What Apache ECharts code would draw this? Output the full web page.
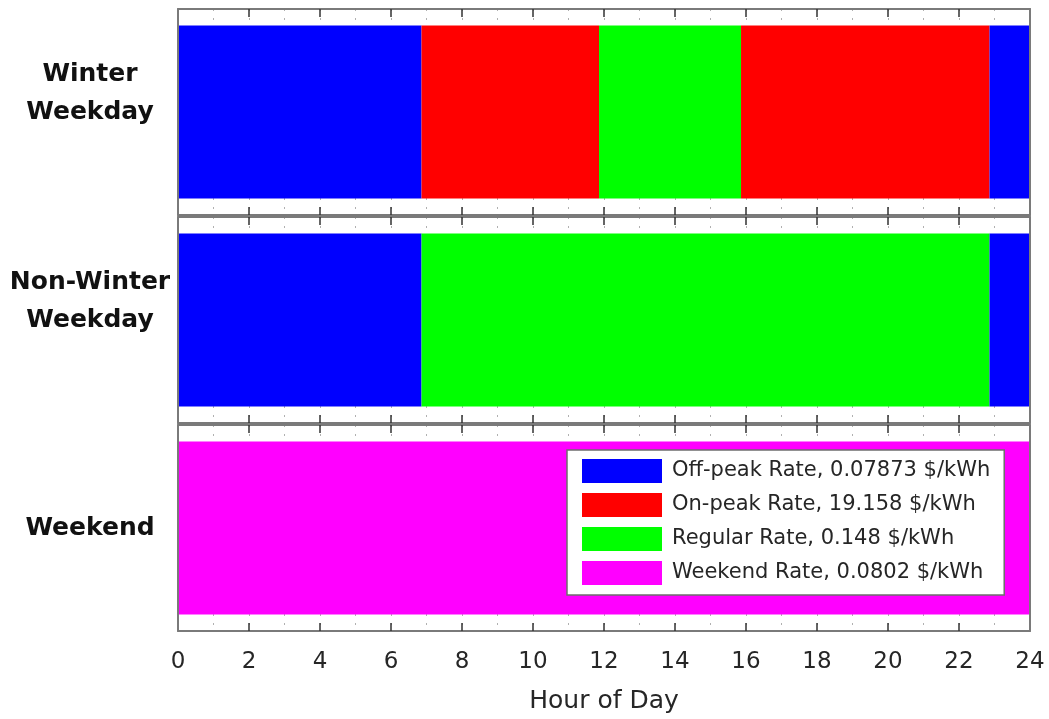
<!DOCTYPE html>
<html>
<head>
<meta charset="utf-8">
<script src="https://cdn.jsdelivr.net/npm/echarts@6/dist/echarts.min.js"></script>
<style>
html,body{margin:0;padding:0;background:#fff;}
#chart{width:1049px;height:719px;}
</style>
</head>
<body>
<div id="chart"></div>
<script>
// ---- data ----
const rowLabels = ['Winter\nWeekday', 'Non-Winter\nWeekday', 'Weekend'];
const rateNames = [
  'Off-peak Rate, 0.07873 $/kWh',
  'On-peak Rate, 19.158 $/kWh',
  'Regular Rate, 0.148 $/kWh',
  'Weekend Rate, 0.0802 $/kWh'
];
const rateColors = ['#0000ff', '#ff0000', '#00ff00', '#ff00ff'];
// hour boundaries of each period and the rate index used in it
const winterBreaks = [0, 6.86, 11.86, 15.86, 22.86, 24];
const winterRates = [0, 1, 2, 1, 0];
const nonWinterBreaks = [0, 6.86, 22.86, 24];
const nonWinterRates = [0, 2, 0];
const weekendBreaks = [0, 24];
const weekendRates = [3];
const hourMin = 0, hourMax = 24, hourStep = 2;

const rows = [
  {breaks: winterBreaks, rates: winterRates},
  {breaks: nonWinterBreaks, rates: nonWinterRates},
  {breaks: weekendBreaks, rates: weekendRates}
];

// ---- layout ----
const gridLeft = 178, gridWidth = 852;
const gridTops = [9, 217, 425];
const gridHeight = 206;
const boxColor = '#7a7a7a';

const grids = [], xAxes = [], yAxes = [], series = [];
rows.forEach((row, i) => {
  grids.push({left: gridLeft, top: gridTops[i], width: gridWidth, height: gridHeight, containLabel: false});
  const isLast = i === rows.length - 1;
  // bottom axis (with grid lines)
  xAxes.push({
    type: 'value', gridIndex: i, min: hourMin, max: hourMax, interval: hourStep, position: 'bottom',
    axisLine: {show: true, onZero: false, lineStyle: {color: boxColor, width: 2}},
    axisTick: {show: true, inside: true, length: 8, lineStyle: {color: '#333', width: 1.5}},
    axisLabel: {show: isLast, margin: 20, color: '#262626', fontFamily: 'DejaVu Sans', fontSize: 23},
    splitLine: {show: true, lineStyle: {color: '#b0b0b0', width: 1, type: [2, 7]}},
    minorTick: {show: false, splitNumber: 2},
    minorSplitLine: {show: true, lineStyle: {color: '#b0b0b0', width: 1, type: [2, 7]}},
    name: isLast ? 'Hour of Day' : '',
    nameLocation: 'middle', nameGap: 58,
    nameTextStyle: {color: '#262626', fontFamily: 'DejaVu Sans', fontSize: 25}
  });
  // top axis (box + ticks)
  xAxes.push({
    type: 'value', gridIndex: i, min: hourMin, max: hourMax, interval: hourStep, position: 'top',
    axisLine: {show: true, onZero: false, lineStyle: {color: boxColor, width: 2}},
    axisTick: {show: true, inside: true, length: 8, lineStyle: {color: '#333', width: 1.5}},
    axisLabel: {show: false},
    splitLine: {show: false}
  });
  yAxes.push({
    type: 'category', gridIndex: i, data: [rowLabels[i]], position: 'left', z: 5,
    axisLine: {show: true, onZero: false, lineStyle: {color: boxColor, width: 2}},
    axisTick: {show: false},
    axisLabel: {
      show: true, margin: 88, align: 'center', verticalAlign: 'middle',
      color: '#111', fontFamily: 'DejaVu Sans', fontWeight: 'bold', fontSize: 25, lineHeight: 38,
      formatter: v => (v.indexOf('\n') >= 0 ? v + '\n' : v)
    },
    splitLine: {show: false}
  });
  yAxes.push({
    type: 'category', gridIndex: i, data: [rowLabels[i]], position: 'right', z: 5,
    axisLine: {show: true, onZero: false, lineStyle: {color: boxColor, width: 2}},
    axisTick: {show: false},
    axisLabel: {show: false},
    splitLine: {show: false}
  });
  row.rates.forEach((r, k) => {
    series.push({
      type: 'bar',
      name: rateNames[r],
      xAxisIndex: i * 2,
      yAxisIndex: i * 2,
      stack: 'row' + i,
      barWidth: '84%',
      itemStyle: {color: rateColors[r]},
      emphasis: {disabled: true},
      data: [row.breaks[k + 1] - row.breaks[k]]
    });
  });
});

const chart = echarts.init(document.getElementById('chart'), null, {renderer: 'canvas'});
chart.setOption({
  animation: false,
  grid: grids,
  xAxis: xAxes,
  yAxis: yAxes,
  color: rateColors,
  legend: {
    data: rateNames,
    orient: 'vertical',
    left: 567, top: 450,
    padding: [9, 14, 10, 15],
    itemWidth: 80, itemHeight: 24, itemGap: 10,
    icon: 'rect',
    backgroundColor: '#fff',
    borderColor: '#6e6e6e', borderWidth: 1.5,
    selectedMode: false,
    textStyle: {color: '#262626', fontFamily: 'DejaVu Sans', fontSize: 21, padding: [0, 0, 0, 5]}
  },
  series: series
});
</script>
</body>
</html>
